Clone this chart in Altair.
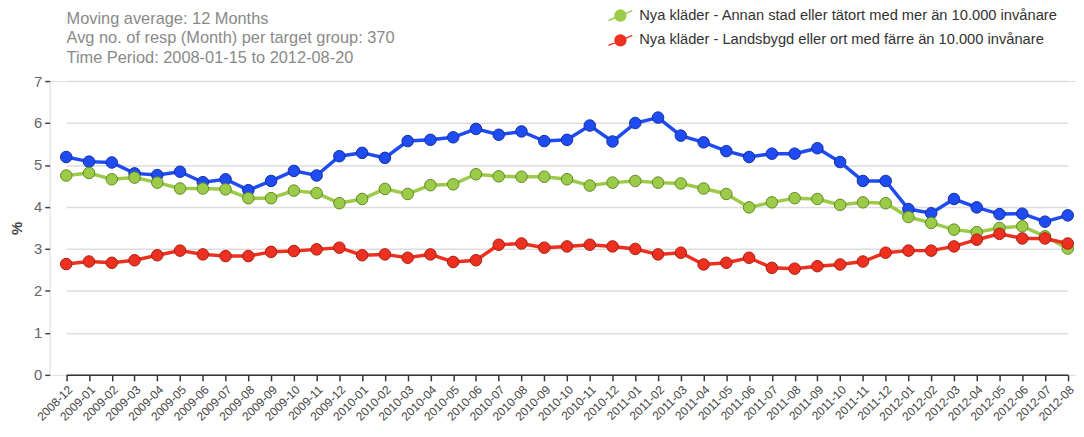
import altair as alt
import pandas as pd

months = [
    "2008-12", "2009-01", "2009-02", "2009-03", "2009-04", "2009-05", "2009-06", "2009-07",
    "2009-08", "2009-09", "2009-10", "2009-11", "2009-12", "2010-01", "2010-02", "2010-03",
    "2010-04", "2010-05", "2010-06", "2010-07", "2010-08", "2010-09", "2010-10", "2010-11",
    "2010-12", "2011-01", "2011-02", "2011-03", "2011-04", "2011-05", "2011-06", "2011-07",
    "2011-08", "2011-09", "2011-10", "2011-11", "2011-12", "2012-01", "2012-02", "2012-03",
    "2012-04", "2012-05", "2012-06", "2012-07", "2012-08",
]

series_names = [
    "Nya kläder - Stockholm, Göteborg eller Malmö med omnejd",
    "Nya kläder - Annan stad eller tätort med mer än 10.000 invånare",
    "Nya kläder - Landsbygd eller ort med färre än 10.000 invånare",
]
series_colors = ["#1f4cf2", "#9ccb4a", "#ee3020"]
series_strokes = ["#12309e", "#5f8a22", "#a81e12"]

stockholm = [
    5.19, 5.08, 5.06, 4.80, 4.76, 4.84, 4.59, 4.66, 4.40, 4.62, 4.86, 4.75, 5.21, 5.29, 5.17,
    5.57, 5.60, 5.66, 5.86, 5.72, 5.80, 5.57, 5.60, 5.94, 5.56, 6.00, 6.13, 5.70, 5.54, 5.33,
    5.19, 5.27, 5.27, 5.40, 5.07, 4.62, 4.62, 3.95, 3.85, 4.19, 3.99, 3.83, 3.84, 3.65, 3.80,
]
annan_stad = [
    4.75, 4.81, 4.66, 4.70, 4.58, 4.44, 4.44, 4.42, 4.21, 4.21, 4.39, 4.33, 4.09, 4.19, 4.43,
    4.31, 4.52, 4.54, 4.78, 4.73, 4.72, 4.72, 4.66, 4.51, 4.58, 4.62, 4.58, 4.56, 4.44, 4.31,
    3.99, 4.11, 4.21, 4.19, 4.05, 4.11, 4.09, 3.76, 3.62, 3.46, 3.40, 3.50, 3.54, 3.30, 3.01,
]
landsbygd = [
    2.64, 2.70, 2.67, 2.73, 2.85, 2.96, 2.87, 2.83, 2.83, 2.93, 2.95, 2.99, 3.03, 2.85, 2.87,
    2.79, 2.87, 2.69, 2.73, 3.10, 3.13, 3.03, 3.06, 3.10, 3.06, 3.00, 2.87, 2.91, 2.63, 2.67,
    2.79, 2.55, 2.53, 2.59, 2.63, 2.70, 2.91, 2.96, 2.96, 3.06, 3.22, 3.36, 3.25, 3.25, 3.13,
]

header_lines = [
    "Moving average: 12 Months",
    "Avg no. of resp (Month) per target group: 370",
    "Time Period: 2008-01-15 to 2012-08-20",
]
y_ticks = [0, 1, 2, 3, 4, 5, 6, 7]

rows = []
for name, vals in zip(series_names, [stockholm, annan_stad, landsbygd]):
    for m, v in zip(months, vals):
        rows.append({"month": m, "value": v, "series": name})
df = pd.DataFrame(rows)

FONT = "Liberation Sans"

x_enc = alt.X(
    "month:O",
    sort=months,
    scale=alt.Scale(type="point", range=[16.7, 1025.7], padding=0),
    axis=alt.Axis(
        title=None,
        labelAngle=-45,
        labelAlign="right",
        labelBaseline="top",
        labelFontSize=12,
        labelColor="#444444",
        labelFont=FONT,
        labelPadding=3,
        tickSize=6,
        tickColor="#333333",
        tickWidth=1.5,
        domainColor="#333333",
        domainWidth=1.5,
        grid=False,
    ),
)
y_enc = alt.Y(
    "value:Q",
    scale=alt.Scale(domain=[0, 7], nice=False, zero=True),
    axis=alt.Axis(
        title="%",
        titleFontSize=15,
        titleFont=FONT,
        titleColor="#444444",
        titleFontWeight="bold",
        titlePadding=9,
        values=y_ticks,
        labelFontSize=15,
        labelColor="#666666",
        labelFont=FONT,
        labelPadding=3,
        tickSize=5,
        tickColor="#444444",
        tickWidth=1.5,
        domain=False,
        grid=True,
        gridColor="#dddddd",
        gridWidth=1.5,
    ),
)

legend_symbol = (
    "M-1.2,0.5L-0.5,0.2M0.5,-0.2L1.2,-0.5"
    "M0.55,0A0.55,0.55 0 1,1 -0.55,0A0.55,0.55 0 1,1 0.55,0Z"
)

color_scale = alt.Scale(domain=series_names, range=series_colors)

base = alt.Chart(df)

lines = base.mark_line(strokeWidth=3.5).encode(
    x=x_enc,
    y=y_enc,
    color=alt.Color(
        "series:N",
        scale=color_scale,
        sort=series_names,
        legend=alt.Legend(
            title=None,
            orient="none",
            legendX=564,
            legendY=-102,
            labelFontSize=14.8,
            labelFont=FONT,
            labelColor="#333333",
            labelLimit=600,
            symbolType=legend_symbol,
            symbolSize=400,
            symbolStrokeWidth=1.5,
            rowPadding=5,
            labelOffset=8,
        ),
    ),
)

points = base.mark_point(filled=True, size=135, strokeWidth=1, opacity=1).encode(
    x=x_enc,
    y=y_enc,
    color=alt.Color("series:N", scale=color_scale, sort=series_names, legend=None),
    stroke=alt.Stroke(
        "series:N",
        scale=alt.Scale(domain=series_names, range=series_strokes),
        legend=None,
    ),
)

chart = (
    alt.layer(lines, points)
    .properties(
        width=1034,
        height=296,
        autosize=alt.AutoSizeParams(type="none"),
        padding={"left": 42, "top": 72, "right": 0, "bottom": 60},
        title=alt.TitleParams(
            text=header_lines,
            anchor="start",
            orient="top",
            frame="group",
            offset=17,
            dx=17,
            dy=104,
            fontSize=16.5,
            font=FONT,
            fontWeight="normal",
            color="#8a8a8a",
            lineHeight=19.5,
        ),
    )
    .configure_view(stroke=None)
    .configure(background="white")
)

chart.save("out.html", embed_options={"renderer": "svg", "actions": False})
